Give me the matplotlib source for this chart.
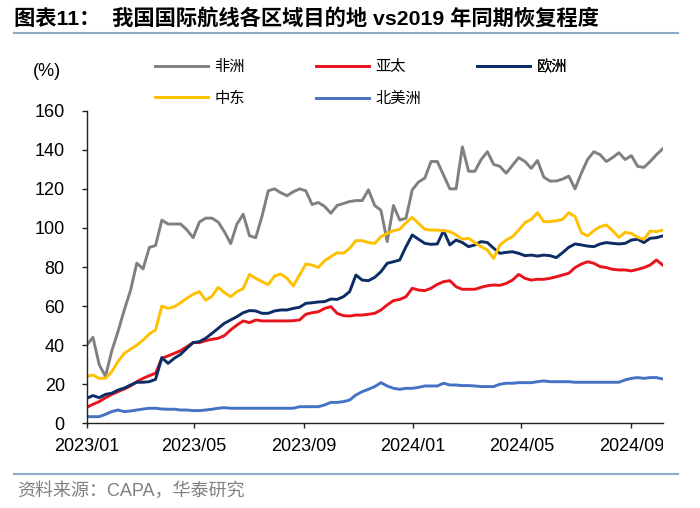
import numpy as np
import pandas as pd
import matplotlib
matplotlib.use('Agg')
import matplotlib.pyplot as plt
import matplotlib.dates as mdates
from matplotlib.lines import Line2D
from matplotlib.transforms import Bbox, TransformedBbox

plt.rcParams['font.family'] = ['Liberation Sans', 'Noto Sans CJK SC']

# fechas semanales desde 2023/01
fechas = pd.date_range('2023-01-01', periods=93, freq='7D')

africa = [40, 44, 30, 24, 37, 47, 58, 68, 82, 79, 90, 91, 104, 102, 102, 102, 99, 95, 103, 105,
          105, 103, 98, 92, 102,
          107, 96, 95, 106, 119, 120, 118, 116.5, 118.5, 120, 119, 112, 113, 111, 107.5, 111.5,
          112.5, 113.5, 114, 114, 119.5, 111.5, 109, 93, 111.5, 104, 105, 119.5, 123.5, 125.5,
          134, 134, 127, 120, 120,
          141.5, 129, 129, 135, 139, 132.5, 131.5, 128, 132, 136, 134, 130.5, 134.5, 126, 124,
          124, 125, 126.5, 120, 128, 135, 139, 137.5, 134, 136, 138.5, 135, 137, 131.5, 131,
          134, 137.5, 140.5]

asia_pac = [8.2, 9.7, 11.1, 13.1, 14.8, 16.2, 17.6, 19.1, 21.3, 23, 24.4, 25.6, 33.3, 34.5, 35.8,
            37.2, 39.2, 41.3, 41.3, 42.3, 43, 43.5, 44.9, 47.8, 50.3, 52.4, 51.5, 52.9, 52.4, 52.4,
            52.4, 52.4,
            52.4, 52.5, 52.9, 55.8, 56.6, 57.1, 58.8, 59.7, 56.3, 55.1, 54.9, 55.4, 55.4, 55.8,
            56.3, 58, 60.6, 62.8, 63.4, 64.8, 69.1, 68.2, 67.9, 69.1, 71.1, 72.5, 73, 69.9, 68.6,
            68.6, 68.6, 69.6,
            70.4, 70.8, 70.6, 71.6, 73.3, 76.2, 74.2, 73.3, 73.7, 73.7, 74.2, 75, 75.9, 76.8,
            79.7, 81.5, 82.7, 81.9, 80.2, 79.7, 78.8, 78.5, 78.5, 78, 78.8, 79.7, 81, 83.6, 81]

europa = [12.8, 14.2, 13.1, 14.8, 15.4, 17, 18, 19.6, 21, 21, 21.3, 22.5, 33.6, 30.7, 33.3, 35.3,
          38.4, 41.3, 41.8, 43.5, 46, 48.6, 51.2, 52.9, 54.6, 56.6, 57.7, 57.5, 56.3, 56.3, 57.5, 58,
          58, 58.8, 59.4, 61.4, 61.7, 62.1, 62.3, 63.6, 63.4, 64.8, 67.4, 75.9, 73.3, 73, 74.7,
          77.6, 81.9, 82.7, 83.6, 90.4, 96.4, 94.2, 92.1, 91.6, 91.8, 98.6, 91.3, 93.8, 92.5,
          90.4, 91.3, 93,
          92.5, 89.6, 87, 87.5, 87.8, 87, 85.8, 86.1, 85.6, 86.1, 85.8, 84.8, 87.3, 90.1, 91.8,
          91.3, 90.7, 90.4, 91.8, 92.5, 92.1, 91.8, 92.1, 93.8, 94.2, 92.5, 94.7, 95, 95.9]

medio_oriente = [24, 24.7, 23, 23, 26.4, 31.6, 35.8, 37.9, 40, 42.6, 45.7, 47.8, 60, 58.8, 59.7,
                 61.7, 64, 66, 67.4, 63, 65, 69.6, 66.9, 64.8, 67.4, 69, 76.2, 74.2, 72.5, 71,
                 75.4, 76.4,
                 74.2, 70.3, 75.9, 81.5, 81, 79.8, 83.2, 85.3, 87.3, 87, 89.6, 93.5, 93.5, 92.5,
                 92.1, 95.5, 97.2, 98.6, 99.3, 102.7, 105.4, 102.3, 99.3, 98.9, 98.9, 98.6, 98.1,
                 96.4, 94.2, 94.7, 92.5, 90.4,
                 88.7, 84.4, 91.3, 93.8, 95.5, 98.9, 102.7, 104.4, 107.8, 103.2, 103.2, 103.7,
                 104.4, 107.8, 105.8, 97.6, 95.9, 98.6, 100.6, 101.5, 98.6, 95.2, 97.7, 97.2,
                 95.2, 94.2, 98.4, 98.1, 98.9]

norteamerica = [3.4, 3.4, 3.4, 4.6, 6, 6.8, 6, 6.3, 6.8, 7.3, 7.7, 7.7, 7.3, 7.2, 7.2, 6.8, 6.8,
                6.5, 6.5, 6.8, 7.2, 7.7, 8, 7.7, 7.7, 7.7, 7.7, 7.7, 7.7, 7.7, 7.7, 7.7,
                7.7, 7.7, 8.5, 8.5, 8.5, 8.5, 9.4, 10.7, 10.7, 11.1, 11.9, 14.5, 16.2, 17.4, 18.8,
                20.8, 19.1, 17.9, 17.4, 17.9, 17.9, 18.4, 19.1, 19.1, 19.1, 20.5, 19.6, 19.6, 19.3,
                19.3, 19.1, 18.8,
                18.8, 18.8, 20, 20.5, 20.5, 20.8, 20.8, 20.8, 21.3, 21.7, 21.3, 21.3, 21.3, 21.3,
                21, 21, 21, 21, 21, 21, 21, 21, 22.2, 23, 23.4, 23, 23.4, 23.4, 22.7]

series = [('非洲', africa, '#808080'),
          ('亚太', asia_pac, '#E8141B'),
          ('欧洲', europa, '#0B2C64'),
          ('中东', medio_oriente, '#FFC000'),
          ('北美洲', norteamerica, '#4472C4')]

fig = plt.figure(figsize=(7, 5.08), dpi=100)
ax = fig.add_axes([86.7 / 700, 84.7 / 508, 576 / 700, 312.6 / 508])

lineas = {}
for nombre, valores, color in series:
    lineas[nombre], = ax.plot(fechas, valores, color=color, lw=2.1, label=nombre)

ax.set_ylim(0, 160)
ax.set_yticks(np.arange(0, 161, 20))
ax.set_xlim(fechas[0], fechas[-1])
ax.xaxis.set_major_locator(mdates.MonthLocator(bymonth=[1, 5, 9]))
ax.xaxis.set_major_formatter(mdates.DateFormatter('%Y/%m'))

for lado in ['top', 'right']:
    ax.spines[lado].set_visible(False)
for lado in ['left', 'bottom']:
    ax.spines[lado].set_color('#222222')
    ax.spines[lado].set_linewidth(1.0)
ax.tick_params(axis='both', labelsize=13, length=3.8, width=1.0, color='#222222')
ax.tick_params(axis='y', pad=12)
ax.tick_params(axis='x', pad=7)

# leyenda en tres columnas colocadas a mano
cols = [(155, ['非洲', '中东']), (316, ['亚太', '北美洲']), (477, ['欧洲'])]
for x0, nombres in cols:
    leg = ax.legend([lineas[n] for n in nombres], nombres,
                    loc='upper left', bbox_to_anchor=(x0 / 700, 1 - 60 / 508),
                    bbox_transform=fig.transFigure, frameon=False, fontsize=11,
                    handlelength=3.5, handletextpad=0.4, labelspacing=1.15,
                    borderpad=0, borderaxespad=0)
    ax.add_artist(leg)

fig.text(14 / 700, 1 - 18 / 508, '图表11：  我国国际航线各区域目的地 vs2019 年同期恢复程度',
         fontsize=15.3, fontweight='bold', va='center', ha='left')
fig.add_artist(Line2D([14 / 700, 678 / 700], [1 - 33 / 508] * 2, color='#8EA9C8', lw=1.5))
fig.add_artist(Line2D([14 / 700, 678 / 700], [1 - 474 / 508] * 2, color='#8EA9C8', lw=1.5))
fig.text(33 / 700, 1 - 72 / 508, '(%)', fontsize=13, va='center', ha='left')
fig.text(17 / 700, 1 - 491 / 508, '资料来源：CAPA，华泰研究', fontsize=13,
         color='#808080', va='center', ha='left')

fig.canvas.draw()
clip = TransformedBbox(Bbox([[0, 0], [663 / 700, 1]]), fig.transFigure)
for lab in ax.get_xticklabels():
    lab.set_clip_box(clip)
    lab.set_clip_on(True)

fig.savefig('out.png', dpi=100)
